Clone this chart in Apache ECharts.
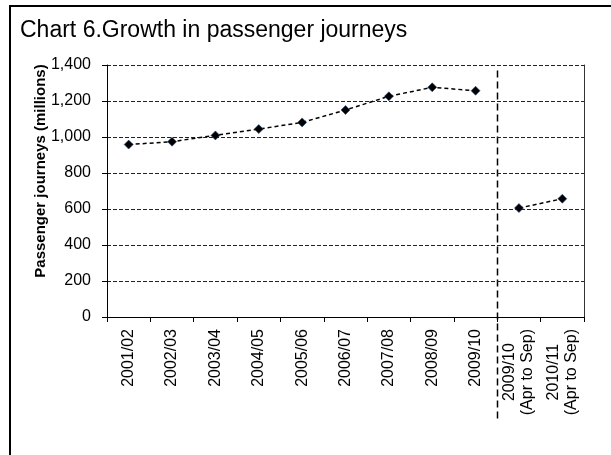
<!DOCTYPE html>
<html>
<head>
<meta charset="utf-8">
<script src="https://cdn.jsdelivr.net/npm/echarts@6/dist/echarts.min.js"></script>
<style>
  html, body { margin: 0; padding: 0; background: #fff; }
  #chart { width: 611px; height: 455px; }
</style>
</head>
<body>
<div id="chart"></div>
<script>
// categories (financial years)
var years = ['2001/02', '2002/03', '2003/04', '2004/05', '2005/06', '2006/07',
             '2007/08', '2008/09', '2009/10', '2009/10\n(Apr to Sep)', '2010/11\n(Apr to Sep)'];
// full-year journeys, millions
var fullYear = [958, 974, 1009, 1044, 1081, 1150, 1226, 1276, 1257, '-', '-'];
// half-year (Apr to Sep) journeys, millions
var halfYear = ['-', '-', '-', '-', '-', '-', '-', '-', '-', 605, 657];
var yTicks = [0, 200, 400, 600, 800, 1000, 1200, 1400];

var FONT = 'Arial, "Liberation Sans", sans-serif';

var chart = echarts.init(document.getElementById('chart'));

function lineSeries(name, data) {
    return {
        name: name,
        type: 'line',
        data: data,
        symbol: 'diamond',
        symbolSize: 9,
        itemStyle: { color: '#000', borderColor: '#2a4d80', borderWidth: 0.6 },
        lineStyle: { color: '#000', width: 1.5, type: [4, 3] },
        animation: false
    };
}

var option = {
    animation: false,
    title: {
        text: 'Chart 6.Growth in passenger journeys',
        left: 20,
        top: 19,
        padding: 0,
        textStyle: { fontFamily: FONT, fontSize: 23, fontWeight: 'normal', color: '#000' }
    },
    grid: { left: 107, right: 27, top: 65, bottom: 138 },
    xAxis: {
        type: 'category',
        data: years,
        axisLine: { lineStyle: { color: '#000', width: 1 } },
        axisTick: { show: true, length: 5, lineStyle: { color: '#000' } },
        axisLabel: {
            rotate: 90,
            interval: 0,
            margin: 12,
            color: '#000',
            fontFamily: FONT,
            fontSize: 16,
            lineHeight: 18,
            formatter: function (v) {
                if (v.indexOf('\n') < 0) return v;
                var p = v.split('\n');
                return '{c|' + p[0] + '}\n{c|' + p[1] + '}';
            },
            rich: { c: { align: 'center', fontFamily: FONT, fontSize: 16, color: '#000', lineHeight: 18 } }
        }
    },
    yAxis: [{
        type: 'value',
        min: yTicks[0],
        max: yTicks[yTicks.length - 1],
        interval: 200,
        axisLine: { show: true, lineStyle: { color: '#000', width: 1 } },
        axisTick: { show: true, length: 5, lineStyle: { color: '#000' } },
        axisLabel: {
            margin: 16,
            color: '#000',
            fontFamily: FONT,
            fontSize: 16,
            formatter: function (v) { return v.toLocaleString('en-US'); }
        },
        splitLine: { show: true, lineStyle: { color: '#222', width: 1, type: [4, 2] } }
    }, {
        type: 'value',
        position: 'right',
        min: yTicks[0],
        max: yTicks[yTicks.length - 1],
        interval: 200,
        axisLine: { show: true, lineStyle: { color: '#333', width: 1 } },
        axisTick: { show: false },
        axisLabel: { show: false },
        splitLine: { show: false }
    }],
    series: [
        lineSeries('Full year', fullYear),
        lineSeries('Apr to Sep', halfYear)
    ],
    graphic: [
        {
            type: 'rect',
            shape: { x: 10, y: 6, width: 640, height: 480 },
            style: { fill: 'none', stroke: '#000', lineWidth: 2 },
            silent: true
        },
        {
            type: 'text',
            x: 41,
            y: 171,
            rotation: Math.PI / 2,
            style: {
                text: 'Passenger journeys (millions)',
                font: 'bold 15px ' + FONT,
                fill: '#000',
                align: 'center',
                verticalAlign: 'middle'
            }
        }
    ]
};

chart.setOption(option);

// dashed divider between full-year and half-year figures
var xa = chart.convertToPixel({ xAxisIndex: 0 }, years[8]);
var xb = chart.convertToPixel({ xAxisIndex: 0 }, years[9]);
var xDiv = Math.round((xa + xb) / 2) + 0.5;
var yTop = chart.convertToPixel({ yAxisIndex: 0 }, 1370);
var yBase = chart.convertToPixel({ yAxisIndex: 0 }, 0);
chart.setOption({
    graphic: option.graphic.concat([{
        type: 'line',
        shape: { x1: xDiv, y1: yTop, x2: xDiv, y2: yBase + 103 },
        style: { stroke: '#000', lineWidth: 1.5, lineDash: [7, 4] },
        silent: true
    }])
});
</script>
</body>
</html>
